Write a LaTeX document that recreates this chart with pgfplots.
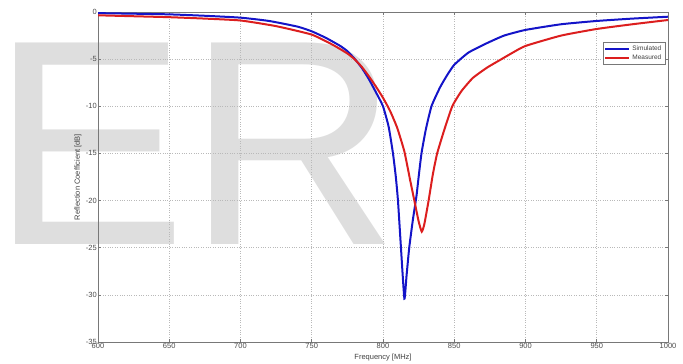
\documentclass[border=0pt]{standalone}
\usepackage{fontspec}
\setmainfont{Liberation Sans}
\usepackage{pgfplots}
\pgfplotsset{compat=1.18}
\definecolor{wm}{RGB}{222,222,222}
\definecolor{simblue}{RGB}{20,20,200}
\definecolor{measred}{RGB}{220,30,30}
\definecolor{axgray}{RGB}{120,120,120}
\definecolor{gridgray}{RGB}{185,185,185}
\begin{document}
\begin{tikzpicture}
\useasboundingbox (0bp,0bp) rectangle (683bp,364bp);
\begin{scope}
\clip (0bp,0bp) rectangle (683bp,364bp);
\node[anchor=base west, inner sep=0pt, text=wm, font=\fontsize{293bp}{293bp}\selectfont] at (-8.6bp,119bp) {ER};
\end{scope}
\begin{axis}[
 at={(98bp,22bp)}, anchor=south west, scale only axis, width=570bp, height=330bp,
 xmin=600, xmax=1000, ymin=-35, ymax=0,
 xtick={600,650,...,1000}, ytick={-35,-30,...,0},
 tick align=inside, major tick length=3bp,
 grid=major, major grid style={gridgray, dotted, line width=0.6bp},
 axis line style={axgray, line width=0.8bp},
 tick style={axgray, line width=0.6bp},
 tick label style={font=\fontsize{7.5bp}{8bp}\selectfont, text=black!70},
 /pgf/number format/assume math mode=true,
 /pgf/number format/set thousands separator={},
 xticklabel style={inner sep=1bp},
 yticklabel style={inner sep=1bp},
 xlabel={Frequency [MHz]}, ylabel={Reflection Coefficient [dB]},
 label style={font=\fontsize{7.5bp}{8bp}\selectfont, text=black!75, inner sep=0pt},
 xlabel style={at={(axis description cs:0.5,-0.0485)}, anchor=center},
 ylabel style={at={(axis description cs:-0.0351,0.5)}, anchor=center},
 legend style={at={(0.9947,0.909)}, anchor=north east, font=\fontsize{6.5bp}{7bp}\selectfont, draw=axgray, inner sep=1.5bp, row sep=-1bp, text=black!75},
 legend cell align=left,
 legend image code/.code={\draw[#1, line width=2bp] (0bp,0bp) -- (24bp,0bp);},
]
\addplot[simblue, line width=2bp, smooth, tension=0.3] coordinates {
(600,-0.12) (625,-0.18) (650,-0.25) (675,-0.4) (700,-0.6) (720,-0.95) (740,-1.55) (750,-2.05) (760,-2.75) (770,-3.6) (775,-4.15) (780,-4.95) (785,-5.9) (790,-7.1) (795,-8.5) (800,-10.0) (804,-12.2) (807,-15.0) (809,-17.5) (810.5,-20.0) (812.6,-25.0) (815,-30.4) (816.5,-28.0) (818.4,-25.0) (821,-22.0) (823.5,-19.5) (825,-17.5) (827,-15.0) (830,-12.5) (834,-10.0) (840,-8.0) (845,-6.7) (850,-5.6) (860,-4.3) (873,-3.3) (885,-2.5) (900,-1.9) (925,-1.3) (950,-0.95) (975,-0.7) (1000,-0.5)
};
\addlegendentry{Simulated}
\addplot[measred, line width=2bp, smooth, tension=0.3] coordinates {
(600,-0.35) (625,-0.45) (650,-0.55) (675,-0.7) (700,-0.9) (725,-1.5) (750,-2.4) (765,-3.5) (775,-4.4) (780,-5.0) (785,-5.8) (790,-6.8) (795,-7.9) (800,-9.1) (805,-10.5) (810,-12.3) (815,-14.8) (819,-17.8) (822,-20.0) (825,-22.2) (827.2,-23.3) (829,-22.5) (832,-20.0) (835,-17.2) (838,-15.0) (843,-12.5) (848.6,-10.0) (855,-8.4) (863,-7.0) (873,-5.9) (882,-5.1) (890,-4.4) (900,-3.6) (925,-2.5) (950,-1.8) (975,-1.3) (1000,-0.85)
};
\addlegendentry{Measured}
\end{axis}
\end{tikzpicture}
\end{document}
